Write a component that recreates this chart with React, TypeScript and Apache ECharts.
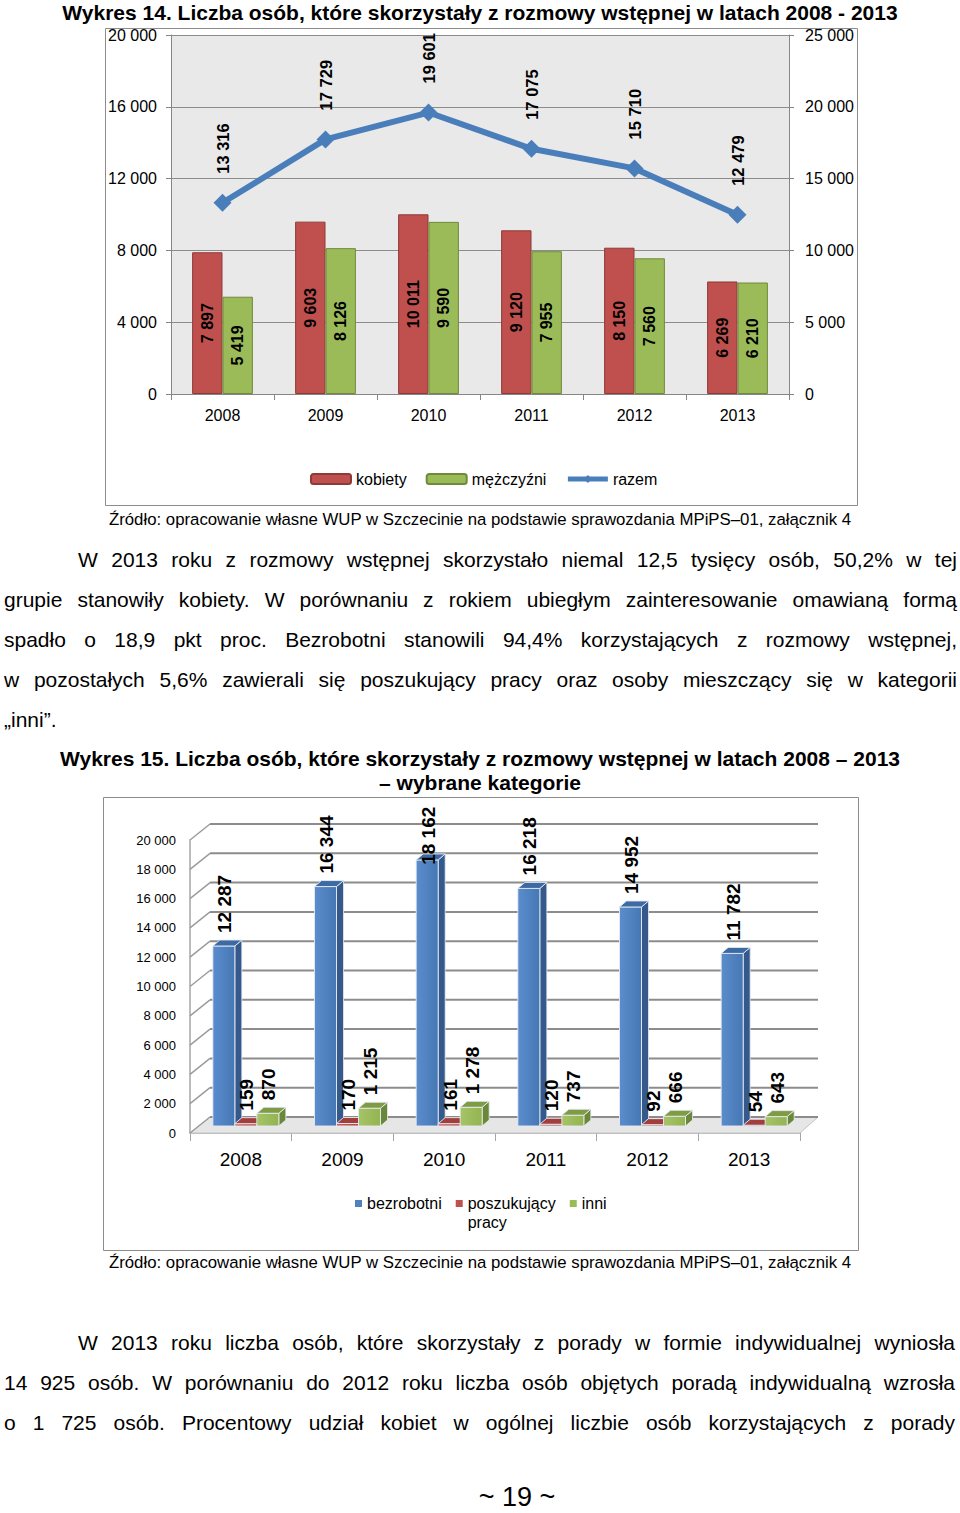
import React, { useEffect, useRef } from "react";
import * as echarts from "echarts";

// ---------- DATA ----------
const years = ["2008", "2009", "2010", "2011", "2012", "2013"];
const kobiety = [7897, 9603, 10011, 9120, 8150, 6269];
const mezczyzni = [5419, 8126, 9590, 7955, 7560, 6210];
const razem = [13316, 17729, 19601, 17075, 15710, 12479];

const bezrobotni = [12287, 16344, 18162, 16218, 14952, 11782];
const poszukujacy = [159, 170, 161, 120, 92, 54];
const inni = [870, 1215, 1278, 737, 666, 643];
const ticks2 = [0, 2000, 4000, 6000, 8000, 10000, 12000, 14000, 16000, 18000, 20000];

const title14 = "Wykres 14. Liczba osób, które skorzystały z rozmowy wstępnej w latach 2008 - 2013";
const title15a = "Wykres 15. Liczba osób, które skorzystały z rozmowy wstępnej w latach 2008 – 2013";
const title15b = "– wybrane kategorie";
const sourceText = "Źródło: opracowanie własne WUP w Szczecinie na podstawie sprawozdania MPiPS–01, załącznik 4";

const para1 = [
  "W 2013 roku z rozmowy wstępnej skorzystało niemal 12,5 tysięcy osób, 50,2% w tej",
  "grupie stanowiły kobiety. W porównaniu z rokiem ubiegłym zainteresowanie omawianą formą",
  "spadło o 18,9 pkt proc. Bezrobotni stanowili 94,4% korzystających z rozmowy wstępnej,",
  "w pozostałych 5,6% zawierali się poszukujący pracy oraz osoby mieszczący się w kategorii",
  "„inni”.",
];
const para2 = [
  "W 2013 roku liczba osób, które skorzystały z porady w formie indywidualnej wyniosła",
  "14 925 osób. W porównaniu do 2012 roku liczba osób objętych poradą indywidualną wzrosła",
  "o 1 725 osób. Procentowy udział kobiet w ogólnej liczbie osób korzystających z porady",
];
const pageNo = "~ 19 ~";

const FONT = "'Liberation Sans', Arial, Helvetica, sans-serif";
const fmt = (n: number) => String(n).replace(/\B(?=(\d{3})+(?!\d))/g, " ");

function textEl(x: number, y: number, text: string, font: string, align = "left") {
  return {
    type: "text",
    x,
    y,
    style: {
      text,
      font,
      fill: "#000",
      align,
      textAlign: align,
      verticalAlign: "middle",
      textVerticalAlign: "middle",
    },
  };
}

const DX = 20;
const DY = -16;
const LABEL_TOP_LIMIT = 803;

function frameItem(params: any, api: any) {
  const v = api.value(1);
  const cs = params.coordSys;
  const y = api.coord([0, v])[1];
  const x0 = cs.x;
  const x1 = cs.x + cs.width;
  const children: any[] = [];
  if (v === 0) {
    children.push({
      type: "polygon",
      shape: { points: [[x0, y], [x1, y], [x1 + DX - 2, y + DY], [x0 + DX, y + DY]] },
      style: { fill: "#e6e6e6", stroke: "#c4c4c4", lineWidth: 1 },
    });
  }
  children.push({
    type: "line",
    shape: { x1: x0, y1: y, x2: x0 + DX, y2: y + DY },
    style: { stroke: "#9a9a9a", lineWidth: 1.5 },
  });
  children.push({
    type: "line",
    shape: { x1: x0 + DX, y1: y + DY, x2: x1 + DX - 2, y2: y + DY },
    style: { stroke: "#8c8c8c", lineWidth: 2 },
  });
  return { type: "group", children };
}

function bar3d(s: number, c1: string, c2: string, side: string, top: string) {
  return (params: any, api: any) => {
    const i = api.value(0);
    const v = api.value(1);
    const b = api.coord([i, 0]);
    const t = api.coord([i, v]);
    const w = 22;
    const cx = b[0] + (s - 1) * 22 + 5;
    const x0 = cx - w / 2;
    const yb = b[1] - 7;
    const yt = t[1] - 7;
    const dx = 7;
    const dy = -6;
    const txt = fmt(v);
    const txtLen = txt.length * 10.3;
    const ly = Math.max(yt - 13, LABEL_TOP_LIMIT + txtLen);
    return {
      type: "group",
      children: [
        {
          type: "polygon",
          shape: { points: [[x0 + w, yt], [x0 + w + dx, yt + dy], [x0 + w + dx, yb + dy], [x0 + w, yb]] },
          style: { fill: side, stroke: "rgba(230,235,245,0.8)", lineWidth: 1 },
        },
        {
          type: "rect",
          shape: { x: x0, y: yt, width: w, height: Math.max(yb - yt, 1) },
          style: {
            fill: new echarts.graphic.LinearGradient(0, 0, 1, 0, [
              { offset: 0, color: c1 },
              { offset: 1, color: c2 },
            ]),
            stroke: "rgba(230,235,245,0.9)",
            lineWidth: 1,
          },
        },
        {
          type: "polygon",
          shape: { points: [[x0, yt], [x0 + w, yt], [x0 + w + dx, yt + dy], [x0 + dx, yt + dy]] },
          style: { fill: top, stroke: "rgba(230,235,245,0.9)", lineWidth: 1 },
        },
        {
          type: "text",
          x: cx + 1,
          y: ly,
          rotation: Math.PI / 2,
          z2: 10,
          style: {
            text: txt,
            font: "bold 19px " + FONT,
            fill: "#000",
            align: "left",
            textAlign: "left",
            verticalAlign: "middle",
            textVerticalAlign: "middle",
          },
        },
      ],
    };
  };
}

export default function App() {
  const ref = useRef<HTMLDivElement>(null);

  useEffect(() => {
    document.body.style.margin = "0";
    const chart = echarts.init(ref.current!, null, { renderer: "svg" });
    const barLabel = {
      show: true,
      position: "inside",
      rotate: 90,
      formatter: (p: any) => fmt(p.value),
      fontSize: 16,
      fontWeight: "bold",
      color: "#000",
      fontFamily: FONT,
    };
    const option: any = {
      animation: false,
      textStyle: { fontFamily: FONT },
      grid: [
        { left: 171, top: 35, width: 618, height: 359, show: true, backgroundColor: "#e9e9e9", borderWidth: 0 },
        { left: 190, top: 840, width: 610, height: 293, show: false },
      ],
      xAxis: [
        {
          type: "category",
          gridIndex: 0,
          data: years,
          axisLine: { lineStyle: { color: "#868686" } },
          axisTick: { show: true, length: 6, lineStyle: { color: "#868686" } },
          axisLabel: { fontSize: 16, color: "#000", margin: 13 },
        },
        {
          type: "category",
          gridIndex: 1,
          data: years,
          axisLine: { lineStyle: { color: "#a6a6a6", width: 1.5 } },
          axisTick: { show: true, length: 8, lineStyle: { color: "#a6a6a6" } },
          axisLabel: { fontSize: 19, color: "#000", margin: 17 },
        },
      ],
      yAxis: [
        {
          type: "value",
          gridIndex: 0,
          min: 0,
          max: 20000,
          interval: 4000,
          axisLine: { show: true, lineStyle: { color: "#868686" } },
          axisTick: { show: true, length: 5, lineStyle: { color: "#868686" } },
          axisLabel: { fontSize: 16, color: "#000", margin: 14, formatter: fmt },
          splitLine: { lineStyle: { color: "#8c8c8c", width: 1 } },
        },
        {
          type: "value",
          gridIndex: 0,
          position: "right",
          min: 0,
          max: 25000,
          interval: 5000,
          axisLine: { show: true, lineStyle: { color: "#868686" } },
          axisTick: { show: true, length: 5, lineStyle: { color: "#868686" } },
          axisLabel: { fontSize: 16, color: "#000", margin: 16, formatter: fmt },
          splitLine: { show: false },
        },
        {
          type: "value",
          gridIndex: 1,
          min: 0,
          max: 20000,
          interval: 2000,
          axisLine: { show: true, lineStyle: { color: "#a6a6a6", width: 1.5 } },
          axisTick: { show: false },
          axisLabel: { fontSize: 13, color: "#000", margin: 14, formatter: fmt },
          splitLine: { show: false },
        },
      ],
      legend: [
        {
          left: 305,
          top: 466,
          itemWidth: 40,
          itemHeight: 10,
          itemGap: 19,
          textStyle: { fontSize: 16, color: "#000" },
          data: [
            { name: "kobiety" },
            { name: "mężczyźni" },
            { name: "razem", lineStyle: { width: 5 }, itemStyle: { color: "#4a7ebb" } },
          ],
        },
        {
          left: 350,
          top: 1170,
          icon: "rect",
          itemWidth: 7,
          itemHeight: 7,
          itemGap: 14,
          textStyle: { fontSize: 16, color: "#000", lineHeight: 19 },
          formatter: (n: string) => (n === "poszukujący pracy" ? " \nposzukujący\npracy" : n),
          data: [{ name: "bezrobotni" }, { name: "poszukujący pracy" }, { name: "inni" }],
        },
      ],
      series: [
        {
          name: "kobiety",
          type: "bar",
          xAxisIndex: 0,
          yAxisIndex: 0,
          data: kobiety,
          barGap: "0%",
          barCategoryGap: "41%",
          itemStyle: { color: "#c0504d", borderColor: "#8c3b39", borderWidth: 1 },
          label: barLabel,
        },
        {
          name: "mężczyźni",
          type: "bar",
          xAxisIndex: 0,
          yAxisIndex: 0,
          data: mezczyzni,
          itemStyle: { color: "#9bbb59", borderColor: "#6f8a3a", borderWidth: 1 },
          label: barLabel,
        },
        {
          name: "razem",
          type: "line",
          xAxisIndex: 0,
          yAxisIndex: 1,
          data: razem,
          symbol: "diamond",
          symbolSize: 18,
          lineStyle: { width: 6, color: "#4a7ebb" },
          itemStyle: { color: "#4a7ebb" },
          label: {
            show: true,
            position: "top",
            rotate: 90,
            align: "left",
            verticalAlign: "middle",
            distance: 20,
            formatter: (p: any) => fmt(p.value),
            fontSize: 16.5,
            fontWeight: "bold",
            color: "#000",
          },
          z: 5,
        },
        {
          name: "frame",
          type: "custom",
          xAxisIndex: 1,
          yAxisIndex: 2,
          data: ticks2.map((v) => [0, v]),
          encode: { x: 0, y: 1 },
          renderItem: frameItem,
          silent: true,
          z: 1,
        },
        {
          name: "bezrobotni",
          type: "custom",
          xAxisIndex: 1,
          yAxisIndex: 2,
          data: bezrobotni.map((v, i) => [i, v]),
          encode: { x: 0, y: 1 },
          renderItem: bar3d(0, "#5b8dcc", "#4677b5", "#34598a", "#3d6aa3"),
          itemStyle: { color: "#4f81bd" },
          z: 3,
        },
        {
          name: "poszukujący pracy",
          type: "custom",
          xAxisIndex: 1,
          yAxisIndex: 2,
          data: poszukujacy.map((v, i) => [i, v]),
          encode: { x: 0, y: 1 },
          renderItem: bar3d(1, "#c9605d", "#b84844", "#8a3533", "#a23f3c"),
          itemStyle: { color: "#c0504d" },
          z: 3,
        },
        {
          name: "inni",
          type: "custom",
          xAxisIndex: 1,
          yAxisIndex: 2,
          data: inni.map((v, i) => [i, v]),
          encode: { x: 0, y: 1 },
          renderItem: bar3d(2, "#a6c468", "#93b450", "#6b8738", "#7f9c45"),
          itemStyle: { color: "#9bbb59" },
          z: 3,
        },
      ],
      graphic: [
        {
          type: "rect",
          shape: { x: 105.5, y: 28.5, width: 752, height: 477 },
          style: { fill: "none", stroke: "#8c8c8c", lineWidth: 1 },
          z: 0,
        },
        {
          type: "rect",
          shape: { x: 103.5, y: 797.5, width: 755, height: 453 },
          style: { fill: "none", stroke: "#8c8c8c", lineWidth: 1 },
          z: 0,
        },
        textEl(480, 12, title14, "bold 21px " + FONT, "center"),
        textEl(480, 519, sourceText, "16.8px " + FONT, "center"),
        textEl(480, 758, title15a, "bold 21px " + FONT, "center"),
        textEl(480, 782, title15b, "bold 21px " + FONT, "center"),
        textEl(480, 1262, sourceText, "16.8px " + FONT, "center"),
        textEl(517, 1497, pageNo, "27px " + FONT, "center"),
      ],
    };
    chart.setOption(option);
    return () => chart.dispose();
  }, []);

  const lineStyle = (left: number, y: number, width: number, justify: boolean): React.CSSProperties => ({
    position: "absolute",
    left,
    top: y - 13,
    width,
    height: 26,
    lineHeight: "26px",
    fontSize: 21,
    fontFamily: FONT,
    color: "#000",
    whiteSpace: justify ? "normal" : "nowrap",
    textAlign: justify ? "justify" : "left",
    textAlignLast: justify ? "justify" : "left",
    overflow: "visible",
  });

  return (
    <div style={{ position: "absolute", left: 0, top: 0, width: 960, height: 1513, background: "#fff" }}>
      <div ref={ref} style={{ position: "absolute", left: 0, top: 0, width: 960, height: 1513 }} />
      {para1.map((t, i) => (
        <div key={"a" + i} style={lineStyle(i === 0 ? 78 : 4, 560 + i * 40, i === 0 ? 879 : 953, i < 4)}>
          {t}
        </div>
      ))}
      {para2.map((t, i) => (
        <div key={"b" + i} style={lineStyle(i === 0 ? 78 : 4, 1343 + i * 40, i === 0 ? 877 : 951, true)}>
          {t}
        </div>
      ))}
    </div>
  );
}
